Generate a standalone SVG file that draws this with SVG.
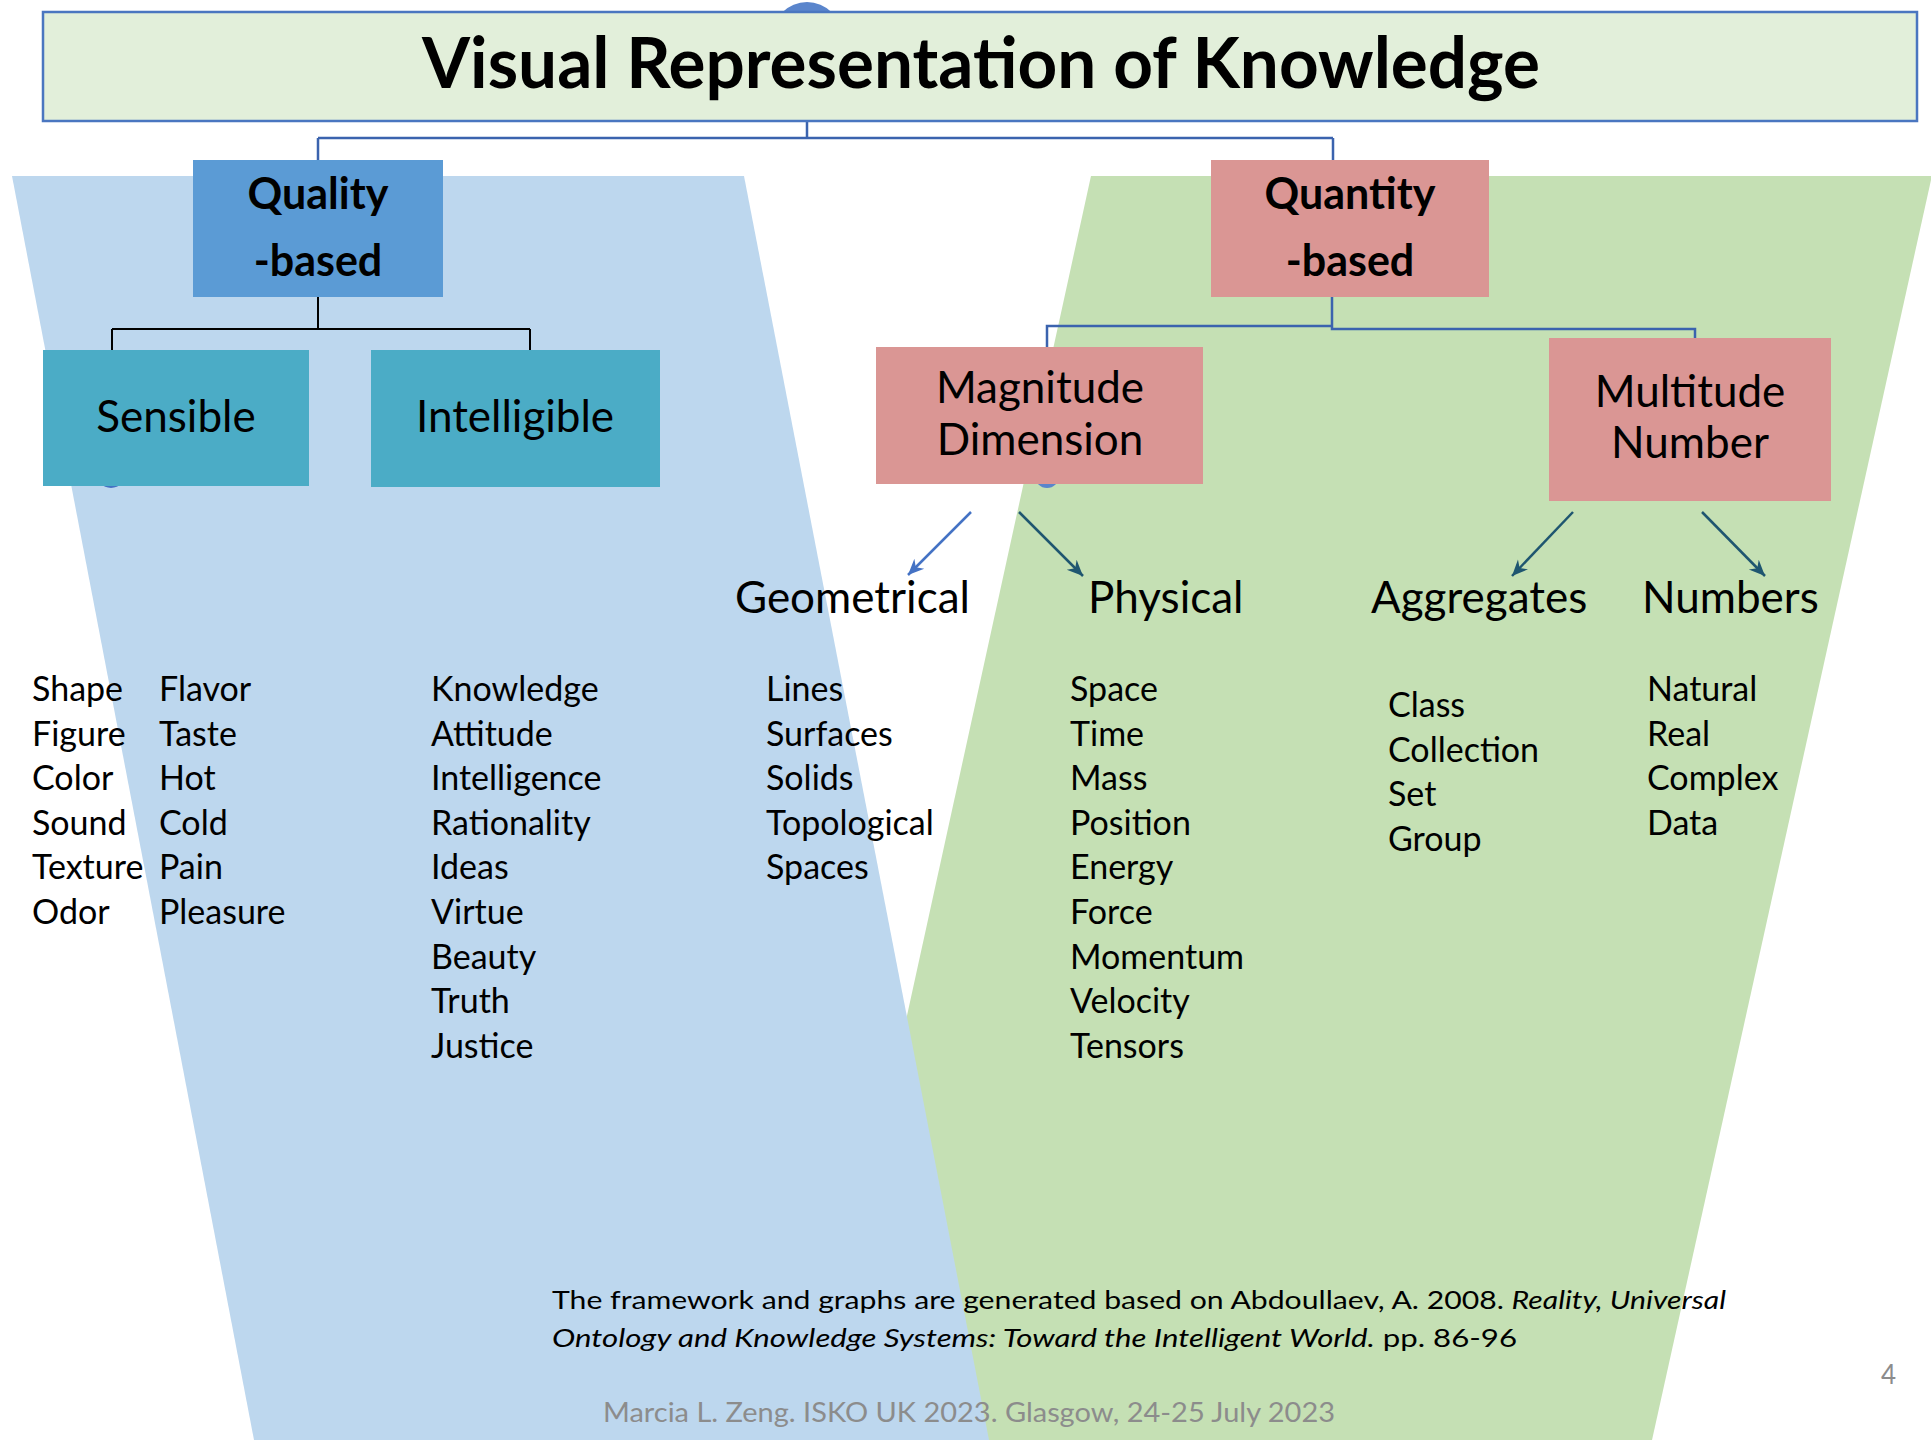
<svg xmlns="http://www.w3.org/2000/svg" width="1931" height="1440" viewBox="0 0 1931 1440">
<style>
  text { font-family: Lato, "Open Sans", "Liberation Sans", sans-serif; fill: #000; }
  .title { font-size: 70px; font-weight: bold; }
  .bold { font-size: 43px; font-weight: bold; }
  .box { font-size: 44px; }
  .cat { font-size: 44px; }
  .item { font-size: 34px; }
  .note { font-size: 25px; }
  .foot { font-size: 26px; fill: #8C8C8C; }
  .blueLine { fill: none; stroke: #3B63AE; stroke-width: 2.5; }
  .blackLine { fill: none; stroke: #000; stroke-width: 2; }
  .arrowB { fill: none; stroke: #4472C4; stroke-width: 2.5; }
  .arrowT { fill: none; stroke: #1F5670; stroke-width: 2.5; }
</style>
<defs>
  <marker id="headB" markerUnits="userSpaceOnUse" markerWidth="18" markerHeight="16" refX="16" refY="8" orient="auto">
    <path d="M0,1 L16,8 L0,15 L5,8 z" fill="#4472C4"/>
  </marker>
  <marker id="headT" markerUnits="userSpaceOnUse" markerWidth="18" markerHeight="16" refX="16" refY="8" orient="auto">
    <path d="M0,1 L16,8 L0,15 L5,8 z" fill="#1F5670"/>
  </marker>
</defs>
<rect width="1931" height="1440" fill="#FFFFFF"/>
<!-- background trapezoids -->
<polygon points="1091,176 1931,176 1931,180 1652,1440 814,1440" fill="#C5E0B4"/>
<polygon points="12,176 744,176 989,1440 254,1440" fill="#BDD7EE"/>

<!-- small artifact circles -->
<circle cx="807" cy="37" r="35" fill="#5A85CC"/>
<circle cx="111" cy="473" r="15" fill="#4472C4"/>
<circle cx="1047" cy="476" r="12" fill="#5A85CC"/>

<g id="connectors">
  <path class="blueLine" d="M807,121 V138 M318,138 H1333 M318,138 V160 M1333,138 V160"/>
  <path class="blackLine" d="M318,297 V329 M112,329 H530 M112,329 V350 M530,329 V350"/>
  <path class="blueLine" d="M1332,297 V326 H1047 V347 M1332,326 V329 H1695 V338"/>
  <path class="arrowB" d="M971,512 L908,575" marker-end="url(#headB)"/>
  <path class="arrowT" d="M1019,512 L1083,576" marker-end="url(#headT)"/>
  <path class="arrowT" d="M1573,512 L1512,576" marker-end="url(#headT)"/>
  <path class="arrowT" d="M1702,512 L1765,576" marker-end="url(#headT)"/>
</g>

<g id="title">
  <rect x="43" y="12" width="1874" height="109" fill="#E2EFDA" stroke="#4A76C0" stroke-width="2.5"/>
  <text class="title" x="981" y="88" text-anchor="middle" textLength="1118" lengthAdjust="spacingAndGlyphs">Visual Representation of Knowledge</text>
</g>

<g id="quality">
  <rect x="193" y="160" width="250" height="137" fill="#5B9BD5"/>
  <text class="bold" x="318" y="209" text-anchor="middle">Quality</text>
  <text class="bold" x="318" y="276" text-anchor="middle">-based</text>
</g>

<g id="quantity">
  <rect x="1211" y="160" width="278" height="137" fill="#DA9694"/>
  <text class="bold" x="1350" y="209" text-anchor="middle">Quantity</text>
  <text class="bold" x="1350" y="276" text-anchor="middle">-based</text>
</g>

<g id="sensible">
  <rect x="43" y="350" width="266" height="136" fill="#4BACC6"/>
  <text class="box" x="176" y="432" text-anchor="middle">Sensible</text>
</g>

<g id="intelligible">
  <rect x="371" y="350" width="289" height="137" fill="#4BACC6"/>
  <text class="box" x="515" y="432" text-anchor="middle">Intelligible</text>
</g>

<g id="magnitude">
  <rect x="876" y="347" width="327" height="137" fill="#DA9694"/>
  <text class="box" x="1040" y="403" text-anchor="middle">Magnitude</text>
  <text class="box" x="1040" y="455" text-anchor="middle">Dimension</text>
</g>

<g id="multitude">
  <rect x="1549" y="338" width="282" height="163" fill="#DA9694"/>
  <text class="box" x="1690" y="407" text-anchor="middle">Multitude</text>
  <text class="box" x="1690" y="458" text-anchor="middle">Number</text>
</g>

<g id="geometrical"><text class="cat" x="735" y="613">Geometrical</text></g>
<g id="physical"><text class="cat" x="1088" y="613">Physical</text></g>
<g id="aggregates"><text class="cat" x="1371" y="613">Aggregates</text></g>
<g id="numbers"><text class="cat" x="1642" y="613">Numbers</text></g>

<g id="list-sensible-1">
  <text class="item" x="32" y="701">Shape</text>
  <text class="item" x="32" y="745.6">Figure</text>
  <text class="item" x="32" y="790.2">Color</text>
  <text class="item" x="32" y="834.8">Sound</text>
  <text class="item" x="32" y="879.4">Texture</text>
  <text class="item" x="32" y="924">Odor</text>
</g>
<g id="list-sensible-2">
  <text class="item" x="159" y="701">Flavor</text>
  <text class="item" x="159" y="745.6">Taste</text>
  <text class="item" x="159" y="790.2">Hot</text>
  <text class="item" x="159" y="834.8">Cold</text>
  <text class="item" x="159" y="879.4">Pain</text>
  <text class="item" x="159" y="924">Pleasure</text>
</g>
<g id="list-intelligible">
  <text class="item" x="431" y="701">Knowledge</text>
  <text class="item" x="431" y="745.6">Attitude</text>
  <text class="item" x="431" y="790.2">Intelligence</text>
  <text class="item" x="431" y="834.8">Rationality</text>
  <text class="item" x="431" y="879.4">Ideas</text>
  <text class="item" x="431" y="924">Virtue</text>
  <text class="item" x="431" y="968.6">Beauty</text>
  <text class="item" x="431" y="1013.2">Truth</text>
  <text class="item" x="431" y="1057.8">Justice</text>
</g>
<g id="list-geometrical">
  <text class="item" x="766" y="701">Lines</text>
  <text class="item" x="766" y="745.6">Surfaces</text>
  <text class="item" x="766" y="790.2">Solids</text>
  <text class="item" x="766" y="834.8">Topological</text>
  <text class="item" x="766" y="879.4">Spaces</text>
</g>
<g id="list-physical">
  <text class="item" x="1070" y="701">Space</text>
  <text class="item" x="1070" y="745.6">Time</text>
  <text class="item" x="1070" y="790.2">Mass</text>
  <text class="item" x="1070" y="834.8">Position</text>
  <text class="item" x="1070" y="879.4">Energy</text>
  <text class="item" x="1070" y="924">Force</text>
  <text class="item" x="1070" y="968.6">Momentum</text>
  <text class="item" x="1070" y="1013.2">Velocity</text>
  <text class="item" x="1070" y="1057.8">Tensors</text>
</g>
<g id="list-aggregates">
  <text class="item" x="1388" y="717">Class</text>
  <text class="item" x="1388" y="761.6">Collection</text>
  <text class="item" x="1388" y="806.2">Set</text>
  <text class="item" x="1388" y="850.8">Group</text>
</g>
<g id="list-numbers">
  <text class="item" x="1647" y="701">Natural</text>
  <text class="item" x="1647" y="745.6">Real</text>
  <text class="item" x="1647" y="790.2">Complex</text>
  <text class="item" x="1647" y="834.8">Data</text>
</g>

<g id="reference-note">
  <text class="note" x="552" y="1309" textLength="1174" lengthAdjust="spacingAndGlyphs">The framework and graphs are generated based on Abdoullaev, A. 2008. <tspan font-style="italic">Reality, Universal</tspan></text>
  <text class="note" x="552" y="1347" textLength="965" lengthAdjust="spacingAndGlyphs"><tspan font-style="italic">Ontology and Knowledge Systems: Toward the Intelligent World.</tspan> pp. 86-96</text>
</g>

<g id="footer">
  <text class="foot" x="603" y="1422" textLength="732" lengthAdjust="spacingAndGlyphs">Marcia L. Zeng.  ISKO UK 2023. Glasgow, 24-25 July 2023</text>
  <text class="foot" x="1881" y="1384">4</text>
</g>
</svg>
